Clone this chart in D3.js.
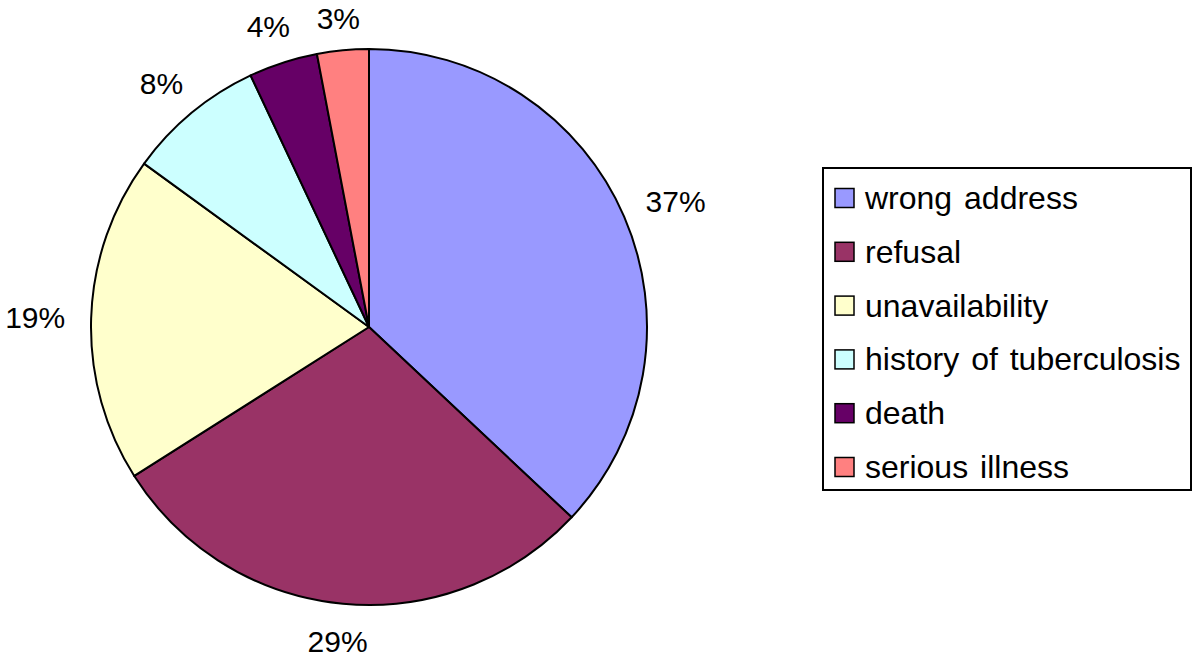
<!DOCTYPE html>
<html>
<head>
<meta charset="utf-8">
<script src="https://cdn.jsdelivr.net/npm/d3@7"></script>
<style>
  body { margin: 0; background: #fff; }
  text { font-family: "Liberation Sans", Arial, sans-serif; fill: #000; }
</style>
</head>
<body>
<div class="canvas"></div>
<script>
// data
const categories = ['wrong address', 'refusal', 'unavailability', 'history of tuberculosis', 'death', 'serious illness'];
const values = [37, 29, 19, 8, 4, 3];
const colours = ['#9999ff', '#993366', '#ffffcc', '#ccffff', '#660066', '#ff8080'];

const dims = { width: 1200, height: 661, radius: 278 };
const cent = { x: 369, y: 327 };

const data = categories.map((name, i) => ({ name, value: values[i] }));

const svg = d3.select('.canvas')
  .append('svg')
  .attr('width', dims.width)
  .attr('height', dims.height);

const graph = svg.append('g')
  .attr('transform', `translate(${cent.x}, ${cent.y})`);

const pie = d3.pie()
  .sort(null)
  .value(d => d.value);

const arcPath = d3.arc()
  .outerRadius(dims.radius)
  .innerRadius(0);

const colour = d3.scaleOrdinal()
  .domain(categories)
  .range(colours);

const slices = pie(data);

graph.selectAll('path')
  .data(slices)
  .enter()
  .append('path')
    .attr('d', arcPath)
    .attr('fill', d => colour(d.data.name))
    .attr('stroke', '#000')
    .attr('stroke-width', 2)
    .attr('stroke-linejoin', 'round');

// percentage labels, box placed just outside the rim
const total = d3.sum(values);
const labelSize = 30;
const gap = 26;
graph.selectAll('text.pct')
  .data(slices)
  .enter()
  .append('text')
    .attr('class', 'pct')
    .attr('font-size', labelSize)
    .attr('text-anchor', 'middle')
    .attr('dominant-baseline', 'central')
    .text(d => Math.round(d.data.value / total * 100) + '%')
    .each(function(d) {
      const a = (d.startAngle + d.endAngle) / 2;
      const bb = this.getBBox();
      const s = Math.sin(a), c = -Math.cos(a);
      const x = (dims.radius + gap) * s + bb.width / 2 * s;
      let y = (dims.radius + gap) * c + bb.height / 2 * c * 0.75;
      // keep inside the top edge of the page
      y = Math.max(y, -cent.y + 18);
      d3.select(this).attr('x', x).attr('y', y);
    });

// legend
const legend = { x: 823, y: 168, w: 368, h: 322, row: 53.8, first: 198 };
const legendGroup = svg.append('g');

legendGroup.append('rect')
  .attr('x', legend.x)
  .attr('y', legend.y)
  .attr('width', legend.w)
  .attr('height', legend.h)
  .attr('fill', '#fff')
  .attr('stroke', '#000')
  .attr('stroke-width', 2);

const items = legendGroup.selectAll('g.item')
  .data(categories)
  .enter()
  .append('g')
    .attr('class', 'item')
    .attr('transform', (d, i) => `translate(${legend.x + 12}, ${legend.first + i * legend.row})`);

items.append('rect')
  .attr('x', 0)
  .attr('y', -9.5)
  .attr('width', 19)
  .attr('height', 19)
  .attr('fill', d => colour(d))
  .attr('stroke', '#000')
  .attr('stroke-width', 1.5);

items.append('text')
  .attr('x', 30)
  .attr('y', 11)
  .attr('font-size', 32)
  .attr('word-spacing', 3)
  .text(d => d);
</script>
</body>
</html>
